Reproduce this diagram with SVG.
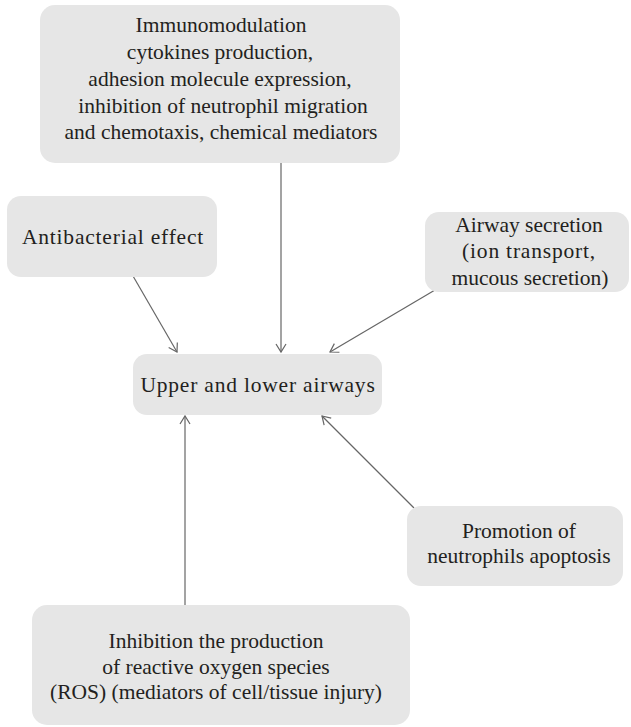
<svg xmlns="http://www.w3.org/2000/svg" width="631" height="727" viewBox="0 0 631 727">
<style>
.box{fill:#e6e6e6;stroke:none}
.t{font-family:'Liberation Serif','Times New Roman','DejaVu Serif',serif;font-size:21.5px;fill:#231f20;text-anchor:middle}
.sp{letter-spacing:0.8px}
.c{stroke:#666;stroke-width:1.2;fill:none;marker-end:url(#ah)}
</style>
<defs>
<marker id="ah" markerUnits="userSpaceOnUse" viewBox="0 0 12 12" markerWidth="12" markerHeight="12" refX="9" refY="6" orient="auto">
<path d="M1,1 L9,6 L1,11" fill="none" stroke="#666" stroke-width="1.2"/>
</marker>
</defs>
<rect width="631" height="727" fill="#fff"/>
<g id="connectors">
<line class="c" x1="281" y1="163" x2="281" y2="352"/>
<line class="c" x1="133" y1="276" x2="177" y2="352"/>
<line class="c" x1="435" y1="290" x2="330" y2="352"/>
<line class="c" x1="185" y1="605" x2="185" y2="416"/>
<line class="c" x1="414" y1="508" x2="322" y2="416"/>
</g>
<g id="immunomodulation">
<rect class="box" x="40" y="5" width="360" height="158" rx="15"/>
<text class="t" x="221" y="32">Immunomodulation</text>
<text class="t" x="220" y="59">cytokines production,</text>
<text class="t" x="220" y="86">adhesion molecule expression,</text>
<text class="t" x="223" y="113">inhibition of neutrophil migration</text>
<text class="t" x="221" y="139">and chemotaxis, chemical mediators</text>
</g>
<g id="antibacterial">
<rect class="box" x="7" y="196" width="210" height="81" rx="14"/>
<text class="t sp" x="113" y="244">Antibacterial effect</text>
</g>
<g id="airway-secretion">
<rect class="box" x="425" y="212" width="204" height="80" rx="14"/>
<text class="t" x="529" y="232">Airway secretion</text>
<text class="t sp" x="529" y="258">(ion transport,</text>
<text class="t" x="530" y="285">mucous secretion)</text>
</g>
<g id="airways">
<rect class="box" x="133" y="354" width="249" height="61" rx="14"/>
<text class="t sp" x="258" y="392">Upper and lower airways</text>
</g>
<g id="apoptosis">
<rect class="box" x="407" y="506" width="216" height="80" rx="14"/>
<text class="t" x="519" y="538">Promotion of</text>
<text class="t" x="519" y="563">neutrophils apoptosis</text>
</g>
<g id="ros">
<rect class="box" x="32" y="605" width="378" height="120" rx="15"/>
<text class="t" x="216" y="648">Inhibition the production</text>
<text class="t" x="216" y="674">of reactive oxygen species</text>
<text class="t" x="216" y="699">(ROS) (mediators of cell/tissue injury)</text>
</g>
</svg>
